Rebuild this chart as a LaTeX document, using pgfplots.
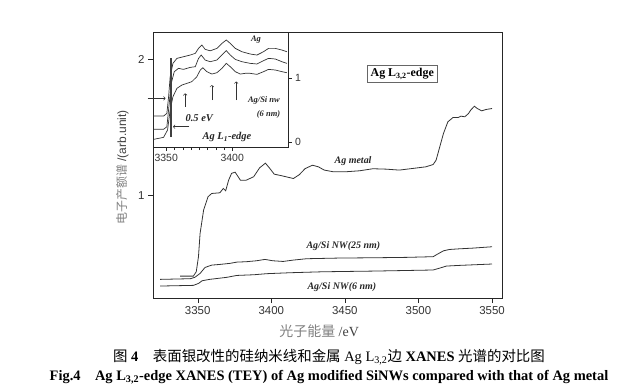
\documentclass[border=0pt]{standalone}
\usepackage{pgfplots}
\pgfplotsset{compat=1.18}
\usepackage{fontspec}
\setmainfont{Liberation Serif}
\setsansfont{Liberation Sans}
\newfontfamily\cjk{Noto Sans CJK SC}
\definecolor{curve}{HTML}{333333}
\begin{document}
\begin{tikzpicture}[x=1bp,y=1bp]
\path[use as bounding box] (0,0) rectangle (633,391);
% ---------------- main axis ----------------
\begin{axis}[
  at={(153bp,93bp)}, anchor=south west, scale only axis,
  width=349bp, height=266bp,
  xmin=3319.6, xmax=3556.8, ymin=0.243, ymax=2.2,
  xtick={3350,3400,3450,3500,3550}, ytick={1,2},
  tick align=outside, xtick pos=left, ytick pos=left,
  major tick length=5bp,
  axis line style={black!85}, tick style={black!85},
  tick label style={font=\sffamily\fontsize{11.5}{13}\selectfont, text=black!80},
  /pgf/number format/assume math mode=true,
  /pgf/number format/set thousands separator={},
  xlabel={{\cjk\color{black!50}光子能量} {\color{black!75}/eV}},
  xlabel style={at={(axis description cs:0.476,-0.124)}, anchor=center, font=\fontsize{14}{16}\selectfont},
  ylabel={{\cjk\color{black!50}电子产额谱} {\sffamily\color{black!75}/(arb.unit)}},
  ylabel style={at={(axis description cs:-0.088,0.492)}, anchor=center, rotate=0, font=\fontsize{12}{14}\selectfont},
  cycle list={{curve, no markers, line width=0.8pt}},
]
% Ag metal
\addplot[curve, no markers, line width=0.8pt] coordinates {(3338,0.404)(3347,0.404)(3349,0.436)(3350.5,0.547)(3351.6,0.718)(3354,0.89)(3357,0.988)(3359.5,1.012)(3365,1.017)(3367.4,1.049)(3369,1.032)(3371,1.11)(3373,1.16)(3375.4,1.169)(3379,1.11)(3383,1.11)(3388,1.135)(3392,1.2)(3396,1.235)(3399,1.196)(3402,1.154)(3406,1.145)(3410,1.135)(3415,1.122)(3419,1.15)(3423,1.195)(3428,1.22)(3432,1.208)(3436,1.184)(3442,1.172)(3451,1.172)(3460,1.179)(3469,1.194)(3478,1.191)(3487,1.184)(3496,1.196)(3505,1.208)(3510,1.225)(3512,1.257)(3514.5,1.355)(3517,1.453)(3520,1.539)(3523.5,1.571)(3527,1.571)(3529,1.581)(3531.5,1.576)(3534,1.6)(3535.5,1.625)(3538,1.654)(3540,1.637)(3543,1.62)(3546,1.63)(3550,1.637)};
% Ag/Si NW (25 nm)
\addplot[curve, no markers, line width=0.8pt] coordinates {(3324.4,0.380)(3345,0.385)(3348,0.395)(3351.6,0.424)(3355,0.468)(3359.5,0.485)(3365,0.49)(3372,0.498)(3376.5,0.507)(3383,0.51)(3390,0.517)(3395.7,0.527)(3401,0.517)(3408,0.512)(3415,0.522)(3424,0.532)(3433,0.534)(3446.6,0.537)(3469,0.539)(3492,0.542)(3510,0.547)(3513,0.566)(3517,0.59)(3521,0.6)(3528,0.605)(3537,0.61)(3550,0.62)};
% Ag/Si NW (6 nm)
\addplot[curve, no markers, line width=0.8pt] coordinates {(3324.4,0.331)(3347,0.336)(3350.5,0.35)(3353,0.37)(3358,0.38)(3369.7,0.395)(3376.5,0.409)(3388,0.414)(3397,0.422)(3413,0.429)(3435,0.436)(3469,0.441)(3510,0.449)(3514.5,0.463)(3519,0.478)(3528,0.483)(3550,0.493)};
\begin{scope}[every node/.style={font=\bfseries\itshape\fontsize{10}{11}\selectfont, text=black!85}]
\node at (axis cs:3455.6,1.247) {Ag metal};
\node at (axis cs:3449,0.627) {Ag/Si NW(25 nm)};
\node at (axis cs:3448,0.326) {Ag/Si NW(6 nm)};
\end{scope}
\node[draw=black!60, line width=0.6pt, inner sep=3pt, font=\bfseries\fontsize{12}{14}\selectfont] at (axis cs:3489,1.89) {Ag L\textsubscript{3,2}-edge};
\end{axis}
% ---------------- inset ----------------
\begin{axis}[
  at={(153bp,244bp)}, anchor=south west, scale only axis,
  width=134.7bp, height=115bp,
  xmin=3340, xmax=3442, ymin=-0.083, ymax=1.714,
  xtick={3350,3400}, minor x tick num=7, ytick={0,1},
  xtick pos=left, ytick pos=right, yticklabel pos=right,
  tick align=outside, major tick length=4bp, minor tick length=3bp,
  axis background/.style={fill=white},
  axis line style={black!85}, tick style={black!85},
  tick label style={font=\sffamily\fontsize{10.5}{12}\selectfont, text=black!80},
  /pgf/number format/assume math mode=true,
  /pgf/number format/set thousands separator={},
  cycle list={{curve, no markers, line width=0.7pt}},
  clip=false,
]
% Ag
\addplot[curve, no markers, line width=0.7pt] coordinates {(3340.4,0.40)(3348,0.40)(3350.5,0.443)(3351.8,0.70)(3353,1.016)(3355.1,1.224)(3358.1,1.302)(3363.1,1.328)(3368.2,1.354)(3372,1.38)(3374.5,1.458)(3377,1.51)(3379.5,1.443)(3383.3,1.42)(3388.4,1.458)(3392.2,1.536)(3395.5,1.589)(3398.5,1.536)(3402.3,1.458)(3407.3,1.406)(3413.6,1.37)(3418.7,1.354)(3423.7,1.406)(3427.5,1.458)(3432.6,1.458)(3437.6,1.432)(3441.4,1.406)};
% middle
\addplot[curve, no markers, line width=0.7pt] coordinates {(3340.4,0.193)(3348,0.193)(3350.5,0.234)(3352.3,0.6)(3353.8,0.911)(3356.1,1.094)(3359.3,1.146)(3363.1,1.13)(3368.2,1.161)(3372,1.172)(3374.5,1.302)(3376.5,1.354)(3379.5,1.276)(3383.3,1.25)(3388.4,1.276)(3392.2,1.354)(3395.5,1.422)(3398.5,1.354)(3402.3,1.286)(3407.3,1.25)(3413.6,1.224)(3418.7,1.214)(3423.7,1.266)(3427.5,1.302)(3432.6,1.292)(3437.6,1.25)(3441.4,1.224)};
% bottom
\addplot[curve, no markers, line width=0.7pt] coordinates {(3340.4,0.036)(3348,0.068)(3351,0.182)(3353,0.495)(3355.1,0.703)(3358.1,0.833)(3361.9,0.885)(3365.7,0.911)(3369.4,0.938)(3373.2,1.016)(3375.8,1.12)(3377.8,1.156)(3380.8,1.094)(3384.6,1.057)(3388.4,1.078)(3392.2,1.146)(3395.5,1.224)(3398.5,1.172)(3402.3,1.094)(3406.1,1.057)(3409.8,1.068)(3413.6,1.068)(3418.7,1.052)(3423.7,1.094)(3427.5,1.13)(3432.6,1.12)(3437.6,1.094)(3441.4,1.078)};
% vertical marker lines
\draw[black!75, line width=0.5pt] (axis cs:3352.8,0.07) -- (axis cs:3352.8,1.30);
\draw[black!75, line width=0.5pt] (axis cs:3354.0,0.07) -- (axis cs:3354.0,1.30);
% arrows
\draw[->, black!80, line width=0.6pt] (axis cs:3336,0.677) -- (axis cs:3349.5,0.677);
\draw[->, black!80, line width=0.6pt] (axis cs:3367.5,0.234) -- (axis cs:3355.2,0.234);
\draw[->, black!80, line width=0.6pt] (axis cs:3364.4,0.547) -- (axis cs:3364.4,0.755);
\draw[->, black!80, line width=0.6pt] (axis cs:3384.6,0.65) -- (axis cs:3384.6,0.885);
\draw[->, black!80, line width=0.6pt] (axis cs:3403,0.65) -- (axis cs:3403,0.94);
\begin{scope}[every node/.style={font=\bfseries\itshape\fontsize{8.5}{9}\selectfont, text=black!85}]
\node at (axis cs:3418,1.60) {Ag};
\node at (axis cs:3424,0.65) {Ag/Si nw};
\node at (axis cs:3427.5,0.43) {(6 nm)};
\end{scope}
\begin{scope}[every node/.style={font=\bfseries\itshape\fontsize{10.5}{11}\selectfont, text=black!85}]
\node at (axis cs:3375,0.365) {0.5 eV};
\node at (axis cs:3396,0.068) {Ag L\textsubscript{1}-edge};
\end{scope}
\end{axis}
% ---------------- caption ----------------
\node[font=\fontsize{14.5}{16}\selectfont] at (329,34) {{\cjk 图} \textbf{4}\quad{\cjk 表面银改性的硅纳米线和金属} Ag L\textsubscript{3,2}{\cjk 边} \textbf{XANES} {\cjk 光谱的对比图}};
\node[font=\bfseries\fontsize{14.5}{16}\selectfont] at (329,14) {Fig.4\quad Ag L\textsubscript{3,2}-edge XANES (TEY) of Ag modified SiNWs compared with that of Ag metal};
\end{tikzpicture}
\end{document}
